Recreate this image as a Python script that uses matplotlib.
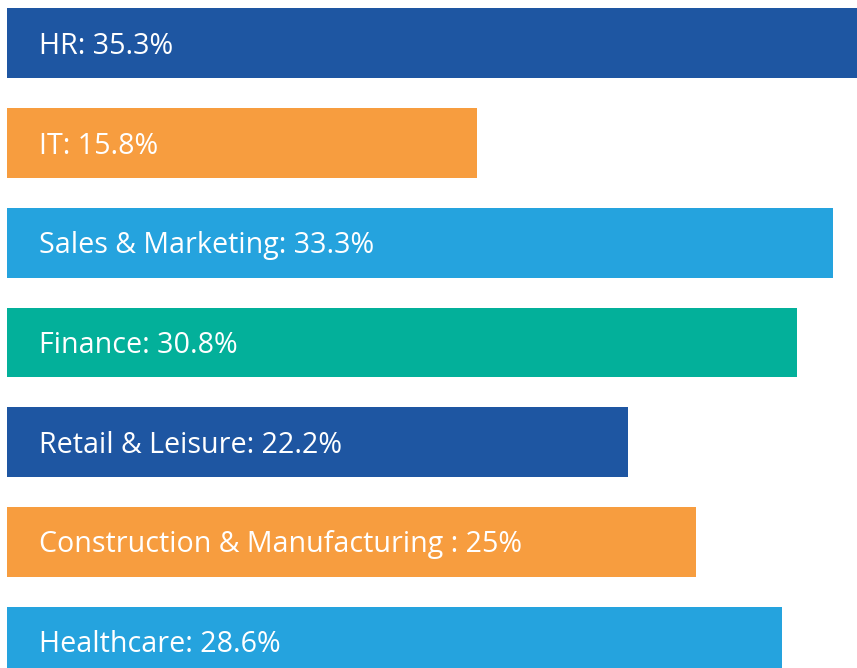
import matplotlib.pyplot as plt

# categories, label values and bar lengths
categories = ["HR", "IT", "Sales & Marketing", "Finance", "Retail & Leisure",
              "Construction & Manufacturing ", "Healthcare"]
labels = ["35.3%", "15.8%", "33.3%", "30.8%", "22.2%", "25%", "28.6%"]
bar_lengths = [35.3, 19.5, 34.3, 32.8, 25.8, 28.6, 32.2]
colors = ["#1E56A2", "#F79D3F", "#25A3DE", "#03B09A", "#1E56A2", "#F79D3F", "#25A3DE"]

plt.rcParams['font.family'] = ['Open Sans', 'DejaVu Sans']

fig = plt.figure(figsize=(8.57, 6.68), dpi=100)
ax = fig.add_axes([0, 0, 1, 1])

ypos = range(len(categories))
ax.barh(ypos, bar_lengths, height=0.7, color=colors)

for y, cat, lab in zip(ypos, categories, labels):
    ax.text(1.3, y + 0.03, cat + ": " + lab, color="white", fontsize=20.6,
            va="center", ha="left")

ax.set_xlim(-0.31, 35.3)
ax.set_ylim(6.264, -0.434)
ax.axis("off")

plt.savefig("out.png", dpi=100)
